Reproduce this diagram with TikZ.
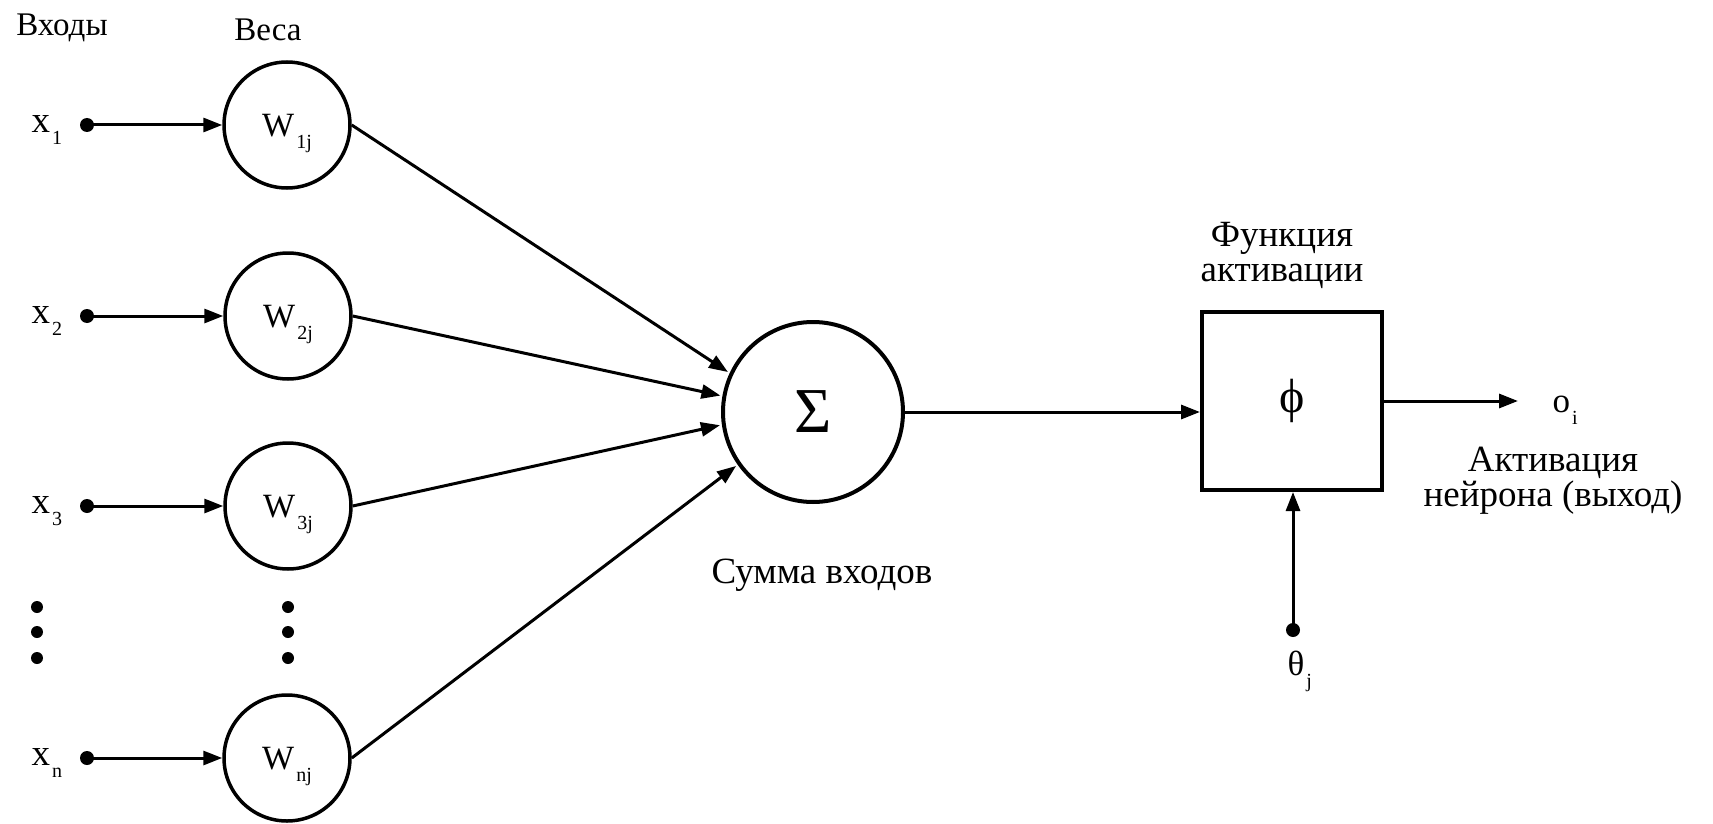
\documentclass[tikz,border=0pt]{standalone}
\usepackage{fontspec}
\setmainfont{Liberation Serif}
\usetikzlibrary{arrows.meta}
\newcommand\lowsub[1]{\kern2pt\raisebox{-12pt}{\fontsize{20}{20}\selectfont #1}}
\begin{document}
\begin{tikzpicture}[x=1pt,y=-1pt,
  wcirc/.style={circle, draw, line width=3.5pt, minimum size=126pt, inner sep=0pt,
    font=\fontsize{34}{34}\selectfont, text height=23pt, text depth=0pt},
  dot/.style={circle, fill, inner sep=0pt, minimum size=14pt},
  edot/.style={circle, fill, inner sep=0pt, minimum size=12pt},
  ar/.style={line width=3pt, -{Triangle[length=19pt,width=14pt]}},
  toplab/.style={font=\fontsize{33}{33}\selectfont, anchor=base},
  biglab/.style={font=\fontsize{37}{35}\selectfont, anchor=base, align=center},
  xlab/.style={font=\fontsize{37}{37}\selectfont, anchor=base west},
]
\useasboundingbox (0,0) rectangle (1713,824);
\fill[white] (0,0) rectangle (1713,824);

% headings
\node[toplab] (hin) at (62,36) {Входы};
\node[toplab] (hw) at (268,41) {Веса};

% inputs
\node[xlab] (l1) at (28,132) {x\lowsub{1}};
\node[xlab] (l2) at (28,323) {x\lowsub{2}};
\node[xlab] (l3) at (28,513) {x\lowsub{3}};
\node[xlab] (ln) at (28,765) {x\lowsub{n}};

\node[dot] (d1) at (87,125) {};
\node[dot] (d2) at (87,316) {};
\node[dot] (d3) at (87,506) {};
\node[dot] (dn) at (87,758) {};

\node[wcirc] (w1) at (287,125) {W\lowsub{1j}};
\node[wcirc] (w2) at (288,316) {W\lowsub{2j}};
\node[wcirc] (w3) at (288,506) {W\lowsub{3j}};
\node[wcirc] (wn) at (287,758) {W\lowsub{nj}};

% ellipsis dots
\node[edot] (e1) at (37,607) {};
\node[edot] (e2) at (37,632) {};
\node[edot] (e3) at (37,658) {};
\node[edot] (e4) at (288,607) {};
\node[edot] (e5) at (288,632) {};
\node[edot] (e6) at (288,658) {};

\draw[ar] (d1.center) -- (w1.west);
\draw[ar] (d2.center) -- (w2.west);
\draw[ar] (d3.center) -- (w3.west);
\draw[ar] (dn.center) -- (wn.west);

% sum
\node[circle, draw, line width=4pt, minimum size=180pt, inner sep=0pt,
  font=\fontsize{64}{64}\selectfont] (sum) at (813,412) {Σ};
\node[biglab] (sumlab) at (822,583) {Сумма входов};

\draw[ar, shorten >=2pt] (w1.east) -- (sum.155);
\draw[ar, shorten >=2pt] (w2.east) -- (sum.170);
\draw[ar, shorten >=2pt] (w3.east) -- (sum.188);
\draw[ar, shorten >=2pt] (wn.east) -- (sum.215);

% activation box
\node[draw, line width=4pt, minimum width=180pt, minimum height=178pt, inner sep=0pt,
  font=\fontsize{48}{48}\selectfont] (box) at (1292,401) {\raisebox{-6pt}{ϕ}};
\node[biglab] (fa) at (1282,281) {Функция\\активации};

\draw[ar] (sum.east) -- (sum.east -| box.west);

% output
\coordinate (out) at (1518,401);
\draw[ar] (box.east) -- (out);
\node[font=\fontsize{35}{35}\selectfont, anchor=base west] (oi) at (1549,412) {o\lowsub{i}};
\node[biglab] (ac) at (1553,506) {Активация\\нейрона (выход)};

% threshold
\node[dot] (dth) at (1293,630) {};
\draw[ar] (dth.center) -- (dth.center |- box.south);
\node[font=\fontsize{35}{35}\selectfont, anchor=base west] (th) at (1284,675) {θ\lowsub{j}};
\end{tikzpicture}
\end{document}
